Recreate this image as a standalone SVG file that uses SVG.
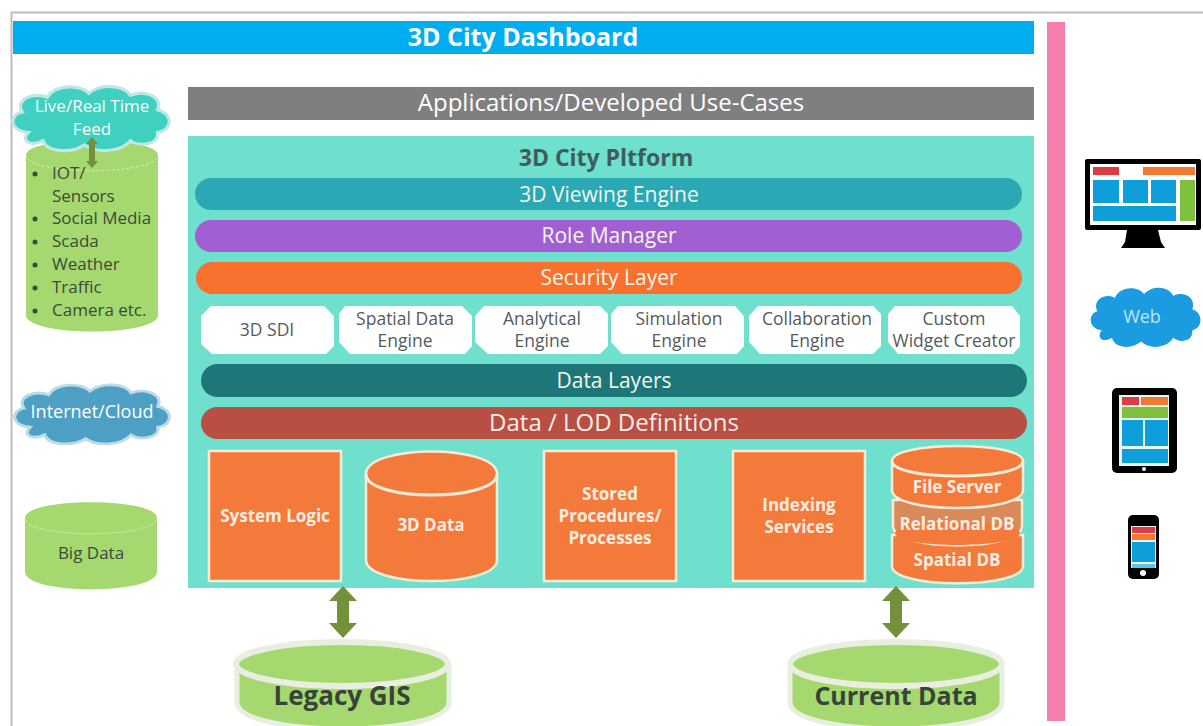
<svg xmlns="http://www.w3.org/2000/svg" width="1203" height="726" viewBox="0 0 1203 726">
<style>
text{font-family:"Open Sans","Noto Sans","Liberation Sans",sans-serif;text-anchor:middle}
.w{fill:#fff}.h{font-size:21px;fill:#f4f6ee}.d{font-size:17.500px;fill:#555a5c}
.b{font-size:17px;font-weight:700;fill:#fbeee0}
.o{fill:#f47a3c;stroke:#f6ecd8;stroke-width:2.500}
.g{fill:#a5d86f}.l{font-size:17px;fill:#3c4a3a;text-anchor:start}
.a{fill:#73913a}
</style>
<defs>
<path id="arr" d="M0-26L14-11H6V11H14L0 26-14 11H-6V-11H-14Z"/>
<path id="cloud" d="M-62 16C-82 14-80-2-68-4-76-16-56-24-44-18-36-32-10-30-4-22 8-32 30-30 36-20 50-26 68-18 62-6 78-2 76 14 62 16 64 28 44 30 36 24 26 36 2 36-8 28-20 36-44 36-48 24-60 30-70 24-62 16Z"/>
</defs>
<rect id="bg" width="1203" height="726" fill="#fff"/>
<path d="M11.500 726V12.500H1203" fill="none" stroke="#bdbdbd" stroke-width="2"/>
<g id="dashboard"><rect x="13" y="21" width="1021" height="33" fill="#00aeef"/><text x="523" y="46" font-size="25" font-weight="700" class="w">3D City Dashboard</text></g>
<rect id="pinkbar" x="1047" y="22" width="18" height="699" fill="#f77fae"/>
<g id="apps"><rect x="188" y="87" width="846" height="33" fill="#7f7f7f"/><text x="611" y="111" font-size="24" class="w">Applications/Developed Use-Cases</text></g>
<g id="platform"><rect x="188" y="136" width="846" height="452" fill="#6ee0cd"/><text x="606" y="166" font-size="23" font-weight="700" fill="#3f5d5b">3D City Pltform</text></g>
<g id="viewing"><rect x="195" y="178" width="827" height="32" rx="16" fill="#2aa9b4"/><text class="h" x="609" y="202">3D Viewing Engine</text></g>
<g id="role"><rect x="195" y="220" width="827" height="32" rx="16" fill="#a25fd2"/><text class="h" x="609" y="243">Role Manager</text></g>
<g id="security"><rect x="196" y="262" width="826" height="32" rx="16" fill="#f8712f"/><text class="h" x="609" y="285">Security Layer</text></g>
<g id="sdi"><path class="w" d="M201 316L211 306H324L334 316V346L326 354H212L201 344Z"/><text class="d" x="267" y="336">3D SDI</text></g>
<g id="spatial"><path class="w" d="M339 314L345 306H462L472 316V346L465 354H350L339 342Z"/><text class="d" x="405" y="325">Spatial Data</text><text class="d" x="405" y="347">Engine</text></g>
<g id="analytical"><path class="w" d="M475 316L484 306H600L608 314V346L600 354H488L475 342Z"/><text class="d" x="542" y="325">Analytical</text><text class="d" x="542" y="347">Engine</text></g>
<g id="simulation"><path class="w" d="M611 314L618 306H735L744 316V346L737 354H622L611 342Z"/><text class="d" x="679" y="325">Simulation</text><text class="d" x="679" y="347">Engine</text></g>
<g id="collaboration"><path class="w" d="M749 316L758 306H873L881 314V346L873 354H760L749 342Z"/><text class="d" x="817" y="325">Collaboration</text><text class="d" x="817" y="347">Engine</text></g>
<g id="widget"><path class="w" d="M888 314L895 306H1012L1020 316V346L1013 354H898L888 342Z"/><text class="d" x="954" y="325">Custom</text><text class="d" x="954" y="347">Widget Creator</text></g>
<g id="layers"><rect x="201" y="364" width="826" height="33" rx="16.500" fill="#1f7679"/><text class="h" x="614" y="388">Data Layers</text></g>
<g id="lod"><rect x="201" y="407" width="826" height="32" rx="16" fill="#b94f43"/><text x="614" y="431" font-size="24" fill="#f7eee6">Data / LOD Definitions</text></g>
<g id="logic"><rect class="o" x="209" y="451" width="132" height="130"/><text class="b" x="275" y="522">System Logic</text></g>
<g id="data3d"><path class="o" d="M366 474V560C366 588 497 588 497 560V474C497 444 366 444 366 474Z"/><path d="M366 474C366 502 497 502 497 474" fill="none" stroke="#f6ecd8" stroke-width="3"/><text class="b" x="431" y="531">3D Data</text></g>
<g id="stored"><rect class="o" x="544" y="451" width="132" height="130"/><text class="b" x="610" y="500">Stored</text><text class="b" x="610" y="522">Procedures/</text><text class="b" x="610" y="544">Processes</text></g>
<g id="indexing"><rect class="o" x="733" y="451" width="132" height="130"/><text class="b" x="799" y="511">Indexing</text><text class="b" x="799" y="533">Services</text></g>
<g id="dbstack">
<path class="o" d="M892 535V566C892 589 1023 589 1023 566V535Z"/>
<path d="M893 500V526C893 552 1022 552 1022 526V500Z" fill="#d9895a" stroke="#f6ecd8" stroke-width="2.500"/>
<path d="M895 533C895 549 1020 549 1020 533 1020 519 895 519 895 533Z" fill="#f47a3c"/>
<path class="o" d="M892 461V490C892 514 1023 514 1023 490V461C1023 441 892 441 892 461Z"/>
<path d="M892 461C892 481 1023 481 1023 461" fill="none" stroke="#f6ecd8" stroke-width="3"/>
<text class="b" x="957" y="493">File Server</text><text class="b" x="957" y="530">Relational DB</text><text class="b" x="957" y="566">Spatial DB</text></g>
<g id="feed-source"><path class="g" d="M26 155C26 136 158 136 158 155V315C158 337 26 337 26 315Z"/><path d="M26 155C26 176 158 176 158 155" fill="none" stroke="#d6efb8" stroke-width="1" stroke-dasharray="3 2"/>
<circle cx="35" cy="174" r="2.500" fill="#3c4a3a"/><circle cx="35" cy="219" r="2.500" fill="#3c4a3a"/><circle cx="35" cy="242" r="2.500" fill="#3c4a3a"/><circle cx="35" cy="265" r="2.500" fill="#3c4a3a"/><circle cx="35" cy="288" r="2.500" fill="#3c4a3a"/><circle cx="35" cy="311" r="2.500" fill="#3c4a3a"/>
<text class="l" x="52" y="179">IOT/</text><text class="l" x="52" y="202">Sensors</text><text class="l" x="52" y="224">Social Media</text><text class="l" x="52" y="247">Scada</text><text class="l" x="52" y="270">Weather</text><text class="l" x="52" y="293">Traffic</text><text class="l" x="52" y="316">Camera etc.</text></g>
<g id="live"><use href="#cloud" transform="translate(93 116) scale(1.04 1.03)" fill="#3fd0c0" stroke="#bfe7e6" stroke-width="3"/><text x="92" y="112" font-size="17" class="w">Live/Real Time</text><text x="92" y="135" font-size="17" class="w">Feed</text></g>
<g id="internet"><use href="#cloud" transform="translate(94 412) scale(1.03 .95)" fill="#4e9fc4" stroke="#bcdbe8" stroke-width="3"/><text x="92" y="418" font-size="18" class="w">Internet/Cloud</text></g>
<g id="bigdata"><path class="g" d="M25 518C25 497 157 497 157 518V572C157 595 25 595 25 572Z"/><path d="M25 518C25 539 157 539 157 518" fill="none" stroke="#c4e6a0" stroke-width="1"/><text x="91" y="559" font-size="17" fill="#3c4a3a">Big Data</text></g>
<g id="legacy"><path class="g" stroke="#e8efe0" stroke-width="5" d="M237 668V702C237 738 449 738 449 702V668Z"/><ellipse class="g" cx="342" cy="664" rx="106" ry="22" stroke="#e8efe0" stroke-width="6"/><text x="342" y="705" font-size="26" font-weight="700" fill="#36443a">Legacy GIS</text></g>
<g id="current"><path class="g" stroke="#e8efe0" stroke-width="5" d="M790 668V702C790 738 1002 738 1002 702V668Z"/><ellipse class="g" cx="896" cy="664" rx="106" ry="22" stroke="#e8efe0" stroke-width="6"/><text x="896" y="705" font-size="25" font-weight="700" fill="#36443a">Current Data</text></g>
<g id="connectors">
<use href="#arr" class="a" transform="translate(343 612)"/>
<use href="#arr" class="a" transform="translate(896 612)"/>
<path class="a" d="M92 137L98 144H95V161L98 161 92 168 86 161H89V144H86Z"/>
</g>
<g id="desktop"><rect x="1085" y="159" width="116" height="71" rx="2" fill="#000"/><rect x="1090" y="164" width="106" height="61" fill="#fff"/><path d="M1127 230H1158L1161 242 1165 248H1121L1125 242Z"/><rect x="1093" y="167" width="26" height="8" fill="#de3c44"/><rect x="1143" y="167" width="52" height="8" fill="#ef7a30"/><g fill="#0e9fdb"><rect x="1093" y="180" width="26" height="23"/><rect x="1123" y="180" width="25" height="23"/><rect x="1151" y="180" width="25" height="23"/><rect x="1093" y="206" width="83" height="15"/></g><rect x="1180" y="180" width="15" height="41" fill="#7fc13c"/></g>
<g id="web"><use href="#cloud" transform="translate(1147 315) scale(.73 .95)" fill="#1b9be0"/><text x="1142" y="323" font-size="18" fill="#bfe6f7">Web</text></g>
<g id="tablet"><rect x="1112" y="388" width="65" height="85" rx="5" fill="#000"/><rect x="1119" y="395" width="50" height="71" fill="#e8f6ef"/><rect x="1122" y="397" width="17" height="8" fill="#de3c44"/><rect x="1141" y="397" width="27" height="8" fill="#ef7a30"/><rect x="1122" y="407" width="46" height="11" fill="#7fc13c"/><g fill="#0e9fdb"><rect x="1122" y="420" width="21" height="26"/><rect x="1145" y="420" width="23" height="26"/><rect x="1122" y="449" width="46" height="14"/></g><circle cx="1144" cy="469" r="2" fill="#fff"/></g>
<g id="phone"><rect x="1128" y="515" width="31" height="64" rx="5" fill="#000"/><rect x="1131" y="526" width="25" height="42" fill="#e8f6ef"/><rect x="1132" y="527" width="23" height="6" fill="#de3c44"/><rect x="1132" y="534" width="23" height="6" fill="#ef7a30"/><rect x="1132" y="542" width="23" height="20" fill="#0e9fdb"/><rect x="1132" y="564" width="23" height="4" fill="#5cc5e6"/><circle cx="1143" cy="573" r="3" fill="#fff"/></g>
</svg>
